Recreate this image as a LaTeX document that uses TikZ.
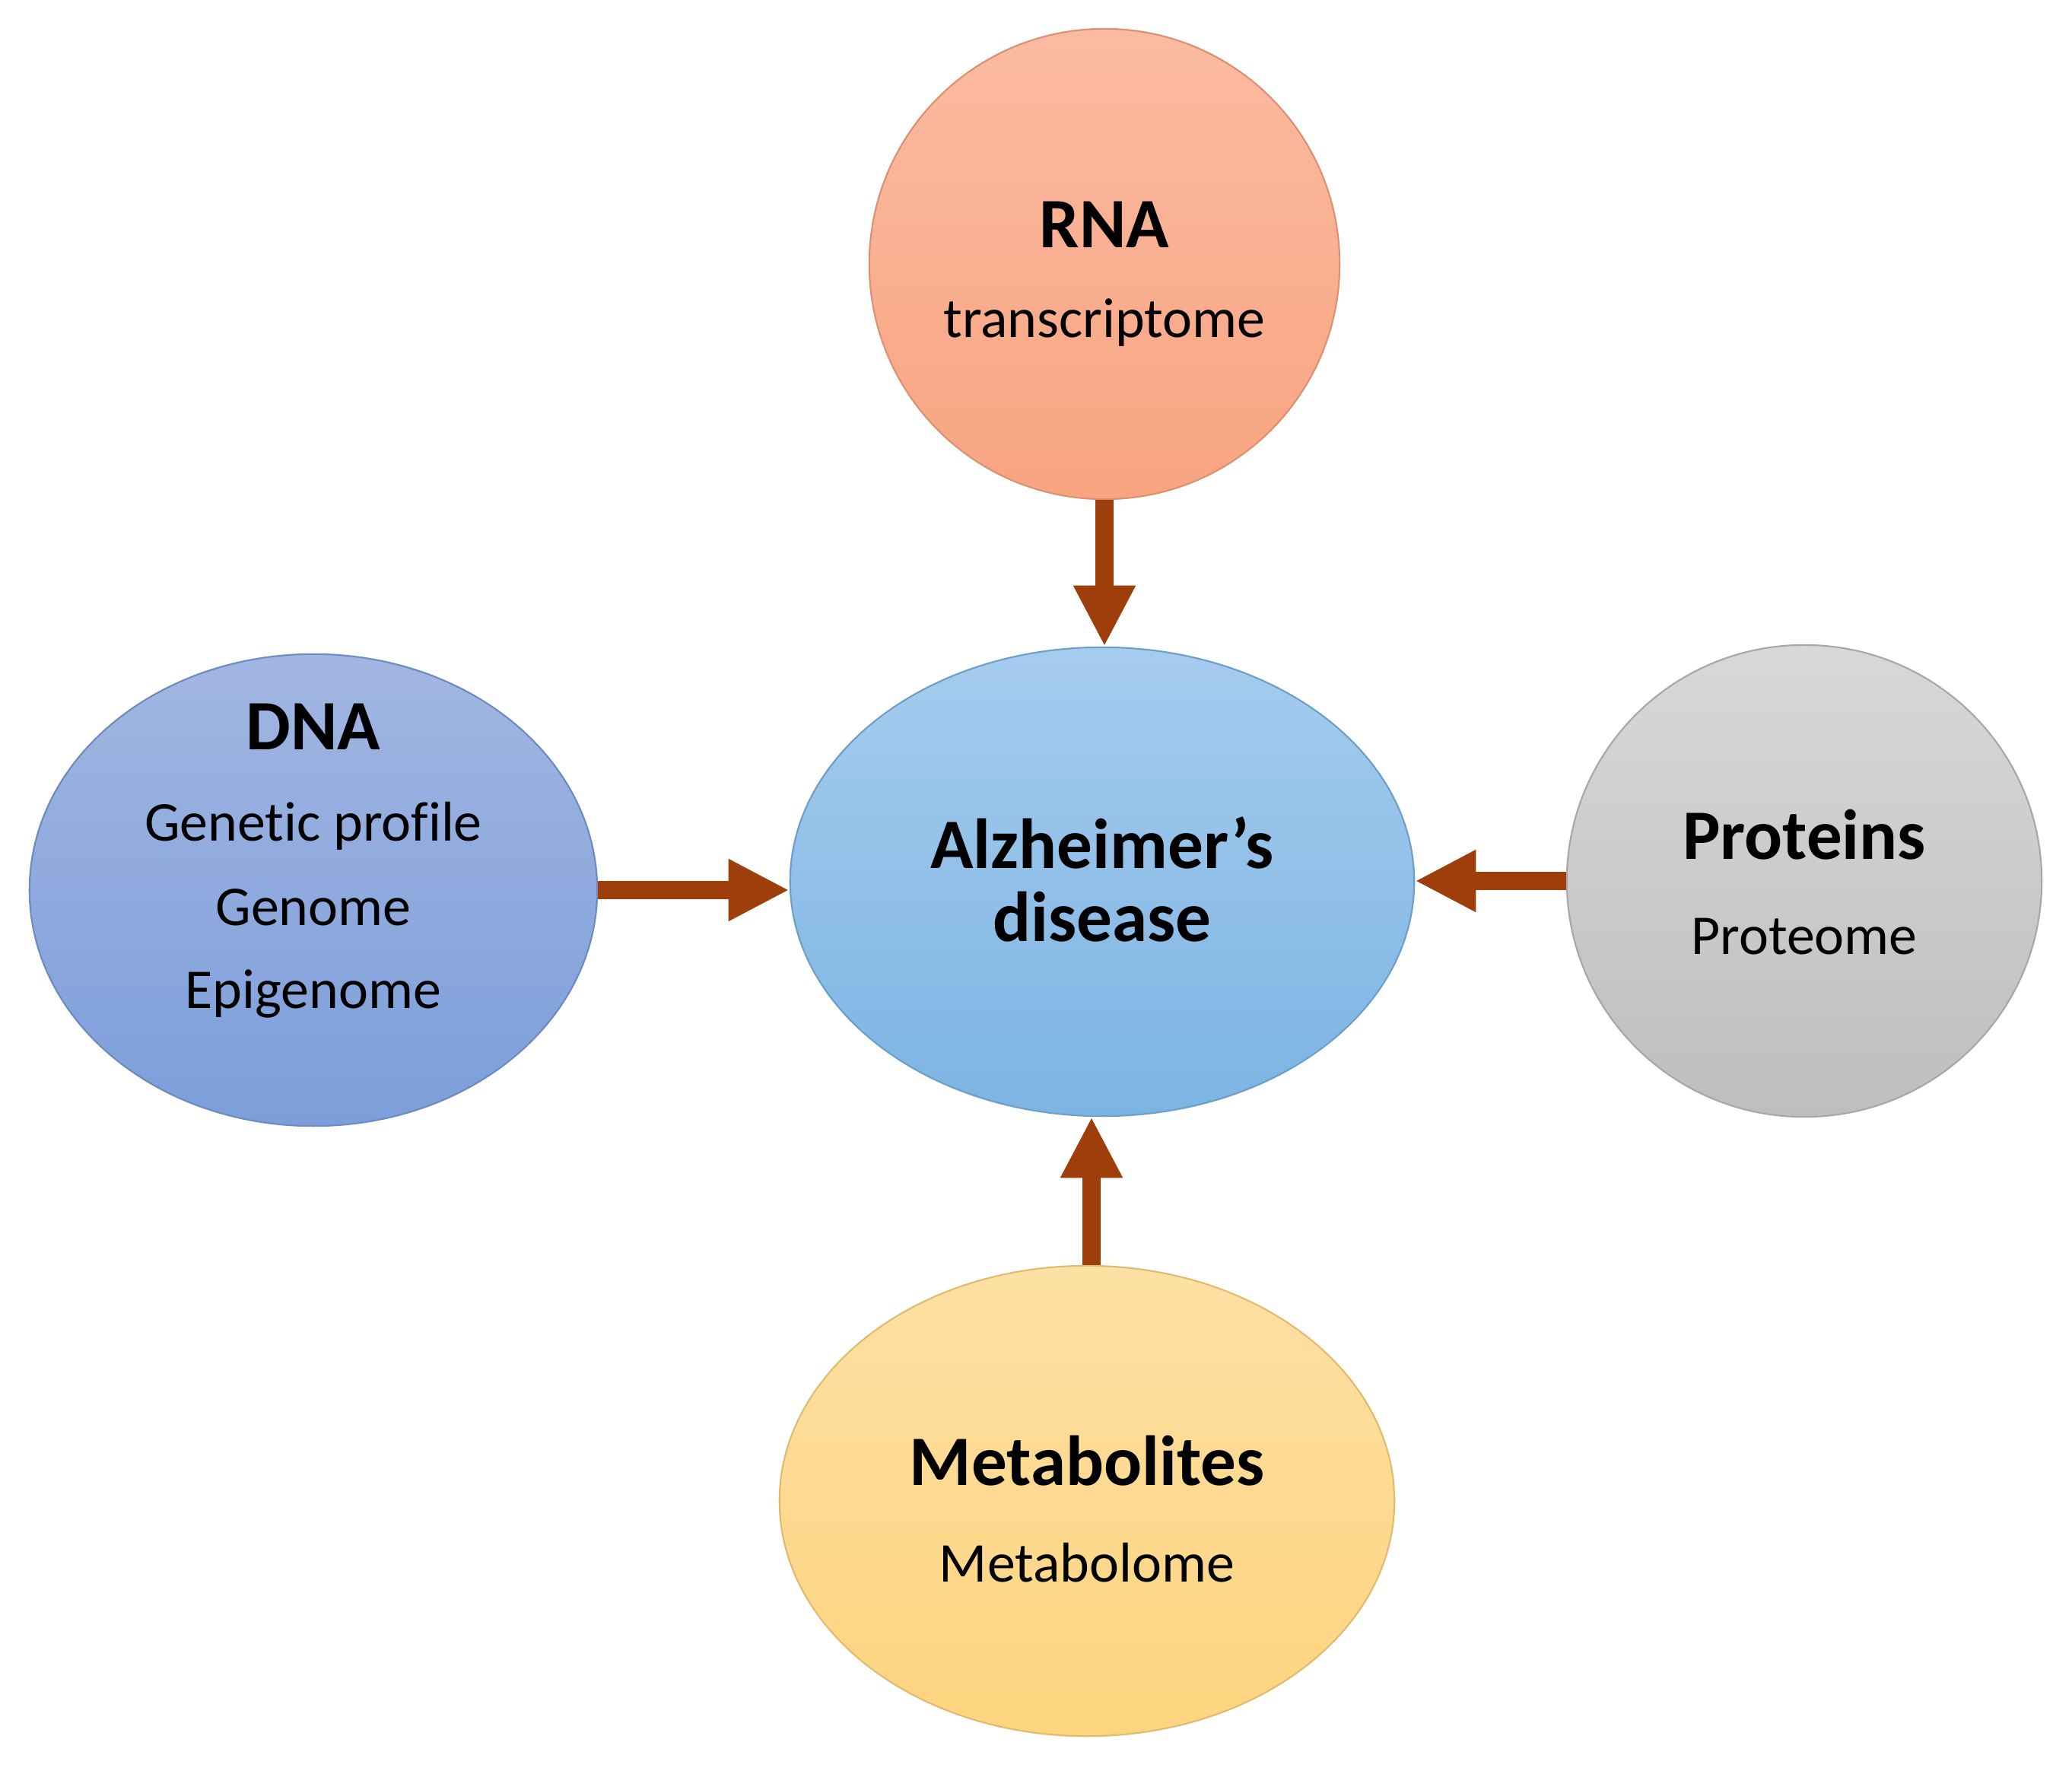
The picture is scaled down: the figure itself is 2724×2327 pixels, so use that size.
\documentclass[tikz,border=0pt]{standalone}
\usepackage{fontspec}
\setmainfont{Carlito}[Ligatures=NoCommon]
\usetikzlibrary{shapes.geometric,arrows.meta}
\definecolor{arrowbrown}{RGB}{158,62,10}
\definecolor{rnatop}{RGB}{251,187,162}
\definecolor{rnabot}{RGB}{248,164,128}
\definecolor{dnatop}{RGB}{162,182,226}
\definecolor{dnabot}{RGB}{124,158,218}
\definecolor{alztop}{RGB}{166,204,238}
\definecolor{alzbot}{RGB}{124,180,227}
\definecolor{prottop}{RGB}{216,216,216}
\definecolor{protbot}{RGB}{190,190,190}
\definecolor{mettop}{RGB}{253,224,164}
\definecolor{metbot}{RGB}{253,212,126}
\tikzset{
  blob/.style={ellipse, inner sep=0pt, line width=0.6pt},
  title/.style={anchor=base, font=\fontsize{26.5pt}{28pt}\selectfont\bfseries},
  sub/.style={anchor=base, font=\fontsize{21pt}{24pt}\selectfont},
  flow/.style={draw=arrowbrown, line width=0.24cm,
    -{Triangle[width=0.76cm,length=0.8cm,fill=arrowbrown]}}
}
\begin{document}
\begin{tikzpicture}[x=0.01cm,y=-0.01cm]
\useasboundingbox (0,0) rectangle (2724,2327);
% ellipses
\node[blob, minimum width=6.18cm, minimum height=6.18cm,
  top color=rnatop, bottom color=rnabot, draw=rnabot!88!black] (rna) at (1452,347) {};
\node[blob, minimum width=7.46cm, minimum height=6.2cm,
  top color=dnatop, bottom color=dnabot, draw=dnabot!88!black] (dna) at (412,1170) {};
\node[blob, minimum width=8.2cm, minimum height=6.16cm,
  top color=alztop, bottom color=alzbot, draw=alzbot!88!black] (alz) at (1449,1159) {};
\node[blob, minimum width=6.24cm, minimum height=6.2cm,
  top color=prottop, bottom color=protbot, draw=protbot!88!black] (prot) at (2372,1158) {};
\node[blob, minimum width=8.08cm, minimum height=6.18cm,
  top color=mettop, bottom color=metbot, draw=metbot!88!black] (met) at (1429,1973) {};
% texts
\node[title] (rnat) at (1452,325) {RNA};
\node[sub] (rnas) at (1452,443) {transcriptome};
\node[title] (dnat) at (412,985) {DNA};
\node[sub] (dnas1) at (412,1105) {Genetic profile};
\node[sub] (dnas2) at (412,1216) {Genome};
\node[sub] (dnas3) at (412,1325) {Epigenome};
\node[title] (alzt1) at (1449,1141) {Alzheimer’s};
\node[title] (alzt2) at (1449,1237) {disease};
\node[title] (prott) at (2372,1129) {Proteins};
\node[sub] (prots) at (2372,1254) {Proteome};
\node[title] (mett) at (1429,1952) {Metabolites};
\node[sub] (mets) at (1429,2079) {Metabolome};
% arrows
\draw[flow] (rna.south) -- (rna.south |- alz.north);
\draw[flow] (dna.east) -- (dna.east -| alz.west);
\draw[flow] (prot.west) -- (prot.west -| alz.east);
\draw[flow] ([xshift=0.06cm]met.north) -- ([xshift=0.06cm]met.north |- alz.south);
\end{tikzpicture}
\end{document}
